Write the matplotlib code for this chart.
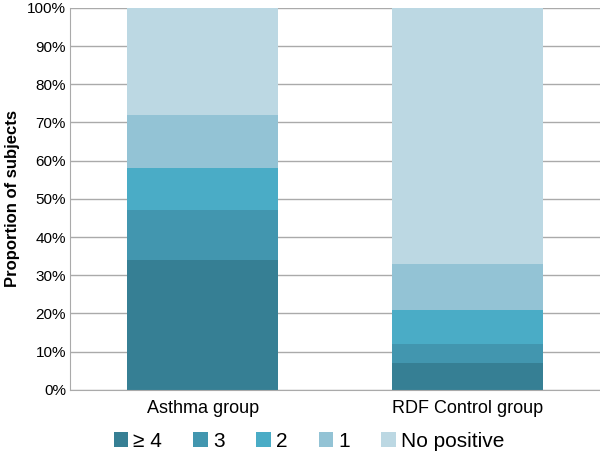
import numpy as np
import matplotlib.pyplot as plt

plt.rcParams['font.family'] = ['Liberation Sans', 'DejaVu Sans']

groups = ['Asthma group', 'RDF Control group']
levels = ['\u2265 4', '3', '2', '1', 'No positive']
colors = ['#367F94', '#4296AF', '#4AACC6', '#93C3D5', '#BCD8E3']

# percent of subjects per level, for each group
ge4 = [34, 7]
three = [13, 5]
two = [11, 9]
one = [14, 12]
none_pos = [28, 67]
values = [ge4, three, two, one, none_pos]

fig = plt.figure(figsize=(6, 4.63), dpi=100)
ax = fig.add_axes([0.117, 0.158, 0.883, 0.825])

x = np.arange(len(groups))
bottom = np.zeros(len(groups))
for lab, val, col in zip(levels, values, colors):
    ax.bar(x, val, 0.57, bottom=bottom, color=col, label=lab, zorder=2)
    bottom += np.array(val)

ax.set_xlim(-0.5, 1.5)
ax.set_ylim(0, 100)
ax.set_yticks(np.arange(0, 101, 10))
ax.set_yticklabels([f'{v}%' for v in range(0, 101, 10)], fontsize=11)
ax.set_xticks(x)
ax.set_xticklabels(groups, fontsize=13)
ax.tick_params(axis='x', length=0, pad=7)
ax.tick_params(axis='y', length=0, pad=3)
ax.yaxis.grid(True, color='#aaaaaa', linewidth=1, zorder=0)
for s in ['top', 'right']:
    ax.spines[s].set_visible(False)
ax.spines['left'].set_color('#aaaaaa')
ax.spines['bottom'].set_color('#aaaaaa')
ax.set_ylabel('Proportion of subjects', fontsize=12, fontweight='bold', labelpad=5)

fig.legend(loc='center', bbox_to_anchor=(0.515, 0.047), ncol=5, frameon=False,
           fontsize=15, handlelength=0.7, handleheight=0.7, handletextpad=0.25,
           columnspacing=1.5, borderpad=0)

fig.savefig('out.png', dpi=100)
